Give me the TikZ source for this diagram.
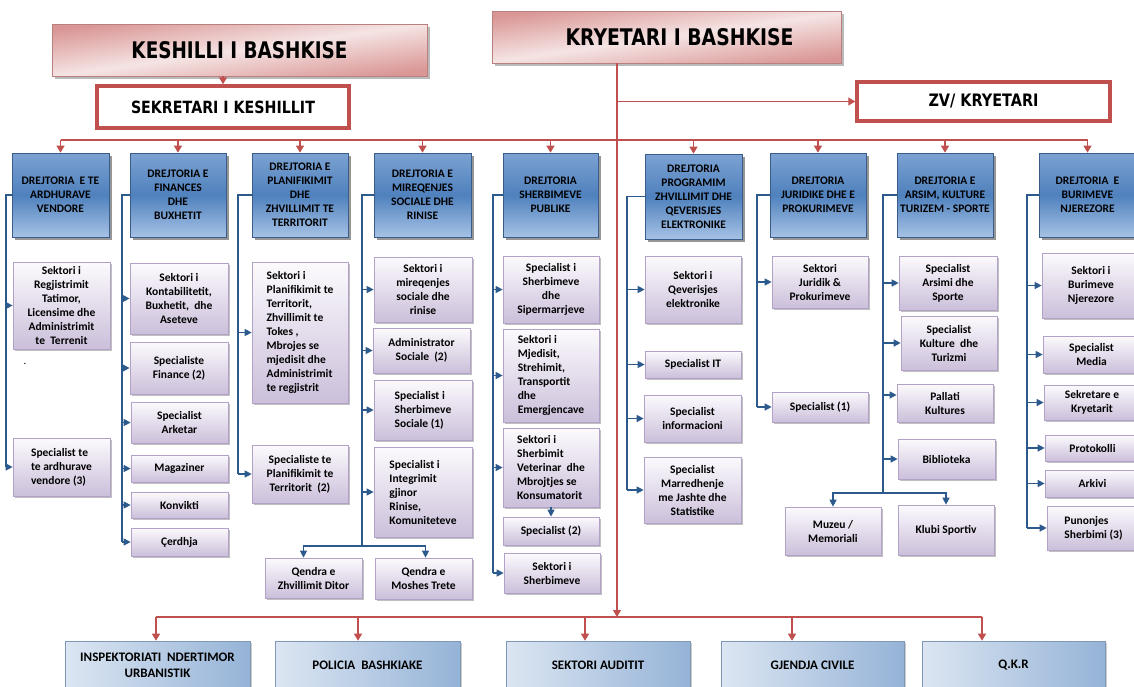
\documentclass[tikz,border=0pt]{standalone}
\usepackage{graphicx}
\usepackage{fontspec}
\setmainfont{Carlito}
\newfontfamily\hf{DejaVu Sans}
\usetikzlibrary{arrows.meta,shadows}

\definecolor{rd}{HTML}{C0504D}
\definecolor{pinkd}{HTML}{D99694}
\definecolor{pinkl}{HTML}{F5E4E4}
\definecolor{blb}{HTML}{385D8A}
\definecolor{blt}{HTML}{7CA2D2}
\definecolor{blm}{HTML}{4F81BD}
\definecolor{blbt}{HTML}{A6C2E5}
\definecolor{pub}{HTML}{B3A2C7}
\definecolor{pubt}{HTML}{FCFAFD}
\definecolor{pubb}{HTML}{CBBFDA}
\definecolor{lbl}{HTML}{DCE6F2}
\definecolor{lbd}{HTML}{95B3D7}
\definecolor{cn}{HTML}{2C5A8C}

\newcommand\bx[7]{\node[#1, minimum width={(#5-#3)*1pt}, minimum height={(#6-#4)*1pt}] (#2) at ({(#3+#5)/2},{(#4+#6)/2}) {#7};}

\tikzset{
  pinkhead/.style={draw=pinkd!85!black, line width=0.6pt, top color=pinkd, bottom color=pinkd, middle color=pinkl, shading angle=8,
    drop shadow={shadow xshift=3pt,shadow yshift=-3pt,fill=black!60,opacity=.45}, inner sep=0pt},
  redbox/.style={draw=rd, line width=3.5pt, fill=white, inner sep=0pt},
  dir/.style={draw=blb, line width=0.7pt, top color=blt, bottom color=blbt, middle color=blm,
    drop shadow={shadow xshift=2.5pt,shadow yshift=-2.5pt,fill=black!75,opacity=.55},
    align=center, font=\fontsize{11.5}{14}\selectfont\bfseries, inner sep=1pt},
  kid/.style={draw=pub, line width=0.7pt, top color=pubt, bottom color=pubb,
    drop shadow={shadow xshift=2pt,shadow yshift=-2pt,fill=black!55,opacity=.45},
    align=center, font=\fontsize{11.5}{14}\selectfont\bfseries, inner sep=1pt},
  kidl/.style={kid, align=left},
  bot/.style={draw=lbd!85!black, line width=0.6pt, left color=lbl, right color=lbd,
    drop shadow={shadow xshift=2pt,shadow yshift=-2pt,fill=black!50,opacity=.4},
    align=center, font=\fontsize{13}{16}\selectfont\bfseries, inner sep=1pt},
  rline/.style={draw=rd, line width=1.3pt},
  rarr/.style={rline, -{Triangle[length=7pt,width=8pt]}},
  bline/.style={draw=cn, line width=1.3pt},
  barr/.style={bline, -{Triangle[length=7pt,width=7pt]}}
}

\begin{document}
\begin{tikzpicture}[x=1pt,y=-1pt]
\useasboundingbox (0,0) rectangle (1134,686);

% ---- top headers
\bx{pinkhead}{kes}{52}{24}{427}{76}{\resizebox{216pt}{17pt}{\hf\bfseries KESHILLI I BASHKISE}}
\bx{pinkhead}{kry}{492}{11}{841}{63}{\hspace*{26pt}\resizebox{228pt}{17pt}{\hf\bfseries KRYETARI I BASHKISE}}
\bx{redbox}{sek}{97}{86}{349}{128}{\resizebox{184pt}{12.5pt}{\hf\bfseries SEKRETARI I KESHILLIT}}
\bx{redbox}{zv}{857}{82}{1110}{121}{\resizebox{110pt}{12.5pt}{\hf\bfseries ZV/ KRYETARI}}

% ---- directorates
\bx{dir}{d1}{12}{153}{109}{237}{DREJTORIA\ \ E TE\\ARDHURAVE\\VENDORE}
\bx{dir}{d2}{130}{153}{226}{237}{DREJTORIA E\\FINANCES\\DHE\\BUXHETIT}
\bx{dir}{d3}{252}{153}{348}{237}{DREJTORIA E\\PLANIFIKIMIT\\DHE\\ZHVILLIMIT TE\\TERRITORIT}
\bx{dir}{d4}{374}{153}{471}{237}{DREJTORIA E\\MIREQENJES\\SOCIALE DHE\\RINISE}
\bx{dir}{d5}{503}{153}{598}{237}{DREJTORIA\\SHERBIMEVE\\PUBLIKE}
\bx{dir}{d6}{645}{154}{742}{239}{DREJTORIA\\PROGRAMIM\\ZHVILLIMIT DHE\\QEVERISJES\\ELEKTRONIKE}
\bx{dir}{d7}{770}{153}{866}{237}{DREJTORIA\\JURIDIKE DHE E\\PROKURIMEVE}
\bx{dir}{d8}{897}{153}{993}{237}{DREJTORIA E\\ARSIM, KULTURE\\TURIZEM - SPORTE}
\bx{dir}{d9}{1039}{153}{1136}{237}{DREJTORIA\ \ E\\BURIMEVE\\NJEREZORE}

% ---- column 1
\bx{kid}{c11}{13}{262}{110}{349}{Sektori i\\Regjistrimit\\Tatimor,\\Licensime dhe\\Administrimit\\te\ \ Terrenit}
\bx{kidl}{c12}{13}{438}{110}{496}{Specialist te\\te ardhurave\\vendore (3)}
\node[font=\fontsize{11}{12}\selectfont] (dot) at (25,364) {.};

% ---- column 2
\bx{kid}{c21}{130}{263}{228}{334}{Sektori i\\Kontabilitetit,\\Buxhetit,\ \ dhe\\Aseteve}
\bx{kid}{c22}{130}{342}{228}{394}{Specialiste\\Finance (2)}
\bx{kid}{c23}{131}{402}{228}{443}{Specialist\\Arketar}
\bx{kid}{c24}{131}{455}{228}{482}{Magaziner}
\bx{kid}{c25}{131}{492}{228}{518}{Konvikti}
\bx{kid}{c26}{131}{528}{228}{556}{Çerdhja}

% ---- column 3
\bx{kidl}{c31}{252}{262}{348}{403}{Sektori i\\Planifikimit te\\Territorit,\\Zhvillimit te\\Tokes ,\\Mbrojes se\\mjedisit dhe\\Administrimit\\te regjistrit}
\bx{kid}{c32}{252}{445}{348}{503}{Specialiste te\\Planifikimit te\\Territorit\ \ (2)}

% ---- column 4
\bx{kid}{c41}{374}{257}{472}{322}{Sektori i\\mireqenjes\\sociale dhe\\rinise}
\bx{kid}{c42}{373}{328}{470}{373}{Administrator\\Sociale\ \ (2)}
\bx{kidl}{c43}{374}{380}{472}{440}{Specialist i\\Sherbimeve\\Sociale (1)}
\bx{kidl}{c44}{374}{447}{472}{537}{Specialist i\\Integrimit\\gjinor\\Rinise,\\Komuniteteve}
\bx{kid}{q1}{265}{558}{362}{598}{Qendra e\\Zhvillimit Ditor}
\bx{kid}{q2}{375}{558}{472}{599}{Qendra e\\Moshes Trete}

% ---- column 5
\bx{kid}{c51}{503}{256}{599}{323}{Specialist i\\Sherbimeve\\dhe\\Sipermarrjeve}
\bx{kidl}{c52}{503}{329}{599}{422}{Sektori i\\Mjedisit,\\Strehimit,\\Transportit\\dhe\\Emergjencave}
\bx{kidl}{c53}{503}{428}{599}{507}{Sektori i\\Sherbimit\\Veterinar\ \ dhe\\Mbrojtjes se\\Konsumatorit}
\bx{kid}{c54}{503}{517}{599}{545}{Specialist (2)}
\bx{kid}{c55}{504}{553}{600}{593}{Sektori i\\Sherbimeve}

% ---- column 6
\bx{kid}{c61}{645}{256}{741}{323}{Sektori i\\Qeverisjes\\elektronike}
\bx{kid}{c62}{645}{351}{741}{378}{Specialist IT}
\bx{kid}{c63}{644}{395}{741}{442}{Specialist\\informacioni}
\bx{kid}{c64}{644}{457}{741}{523}{Specialist\\Marredhenje\\me Jashte dhe\\Statistike}

% ---- column 7
\bx{kid}{c71}{772}{256}{868}{308}{Sektori\\Juridik \&\\Prokurimeve}
\bx{kid}{c72}{772}{392}{868}{422}{Specialist (1)}

% ---- column 8
\bx{kid}{c81}{899}{256}{997}{310}{Specialist\\Arsimi dhe\\Sporte}
\bx{kid}{c82}{901}{316}{997}{370}{Specialist\\Kulture\ \ dhe\\Turizmi}
\bx{kid}{c83}{897}{384}{993}{422}{Pallati\\Kultures}
\bx{kid}{c84}{898}{439}{995}{479}{Biblioteka}
\bx{kid}{m1}{785}{507}{881}{555}{Muzeu /\\Memoriali}
\bx{kid}{m2}{898}{505}{994}{555}{Klubi Sportiv}

% ---- column 9
\bx{kid}{c91}{1042}{253}{1140}{318}{Sektori i\\Burimeve\\Njerezore}
\bx{kid}{c92}{1043}{336}{1140}{373}{Specialist\\Media}
\bx{kid}{c93}{1044}{385}{1140}{420}{Sekretare e\\Kryetarit}
\bx{kid}{c94}{1045}{435}{1140}{461}{Protokolli}
\bx{kid}{c95}{1045}{470}{1140}{497}{Arkivi}
\bx{kidl}{c96}{1047}{506}{1140}{550}{Punonjes\\Sherbimi (3)}

% ---- bottom
\bx{bot}{b1}{65}{641}{250}{690}{INSPEKTORIATI\ \ NDERTIMOR\\URBANISTIK}
\bx{bot}{b2}{275}{641}{460}{690}{POLICIA\ \ BASHKIAKE}
\bx{bot}{b3}{506}{641}{690}{690}{SEKTORI AUDITIT}
\bx{bot}{b4}{721}{641}{904}{690}{GJENDJA CIVILE}
\bx{bot}{b5}{922}{641}{1105}{690}{Q.K.R}

% ---- red connectors
\coordinate (kx) at (617,0);
\coordinate (ty) at (0,140);
\coordinate (a1) at (156,617);
\coordinate (a2) at (358,617);
\coordinate (a3) at (585,617);
\coordinate (a4) at (792,617);
\coordinate (a5) at (982,617);
\draw[rarr] (kes.south -| sek.north) -- (sek.north);
\draw[rline] (ty -| d1.north) -- (ty -| d9.north);
\foreach \i in {1,...,9} \draw[rarr] (ty -| d\i.north) -- (d\i.north);
\draw[rarr] (kry.south -| kx) -- (kx |- a1);
\draw[rarr] (kx |- zv.west) -- (zv.west);
\draw[rline] (a1) -- (a5);
\foreach \i in {1,...,5} \draw[rarr] (a\i) -- (a\i |- b\i.north);

% ---- blue connectors
\coordinate (v1) at (6,0);
\coordinate (v2) at (122,0);
\coordinate (v3) at (238,0);
\coordinate (v4) at (362,0);
\coordinate (v5) at (493,0);
\coordinate (v6) at (627,0);
\coordinate (v7) at (757,0);
\coordinate (v8) at (883,0);
\coordinate (v9) at (1027,0);
\coordinate (h4) at (362,546);
\coordinate (h8) at (883,493);

\draw[bline] (d1.west) -- (v1 |- d1.west) -- (v1 |- c12.west);
\foreach \c in {c11,c12} \draw[barr] (v1 |- \c.west) -- (\c.west);

\draw[bline] (d2.west) -- (v2 |- d2.west) -- (v2 |- c26.west);
\foreach \c in {c21,c22,c23,c24,c25,c26} \draw[barr] (v2 |- \c.west) -- (\c.west);

\draw[bline] (d3.west) -- (v3 |- d3.west) -- (v3 |- c32.west);
\foreach \c in {c31,c32} \draw[barr] (v3 |- \c.west) -- (\c.west);

\draw[bline] (d4.west) -- (v4 |- d4.west) -- (h4);
\foreach \c in {c41,c42,c43,c44} \draw[barr] (v4 |- \c.west) -- (\c.west);
\draw[barr] (h4) -| ([xshift=-10pt]q1.north);
\draw[barr] (h4) -| ([xshift=2pt]q2.north);

\draw[bline] (d5.west) -- (v5 |- d5.west) -- (v5 |- c55.west);
\foreach \c in {c51,c52,c53,c55} \draw[barr] (v5 |- \c.west) -- (\c.west);
\draw[barr] (c53.south) -- (c54.north);

\draw[bline] (d6.west) -- (v6 |- d6.west) -- (v6 |- c64.west);
\foreach \c in {c61,c62,c63,c64} \draw[barr] (v6 |- \c.west) -- (\c.west);

\draw[bline] (d7.west) -- (v7 |- d7.west) -- (v7 |- c72.west);
\foreach \c in {c71,c72} \draw[barr] (v7 |- \c.west) -- (\c.west);

\draw[bline] (d8.west) -- (v8 |- d8.west) -- (h8);
\foreach \c in {c81,c82,c84} \draw[barr] (v8 |- \c.west) -- (\c.west);
\draw[barr] (v8 |- c83.west) ++(0,-8) coordinate (p83) -- (p83 -| c83.west);
\draw[barr] (h8) -| (m1.north);
\draw[barr] (h8) -| (m2.north);

\draw[bline] (d9.west) -- (v9 |- d9.west) -- (v9 |- c96.west);
\foreach \c in {c91,c92,c93,c94,c95,c96} \draw[barr] (v9 |- \c.west) -- (\c.west);
\end{tikzpicture}
\end{document}
